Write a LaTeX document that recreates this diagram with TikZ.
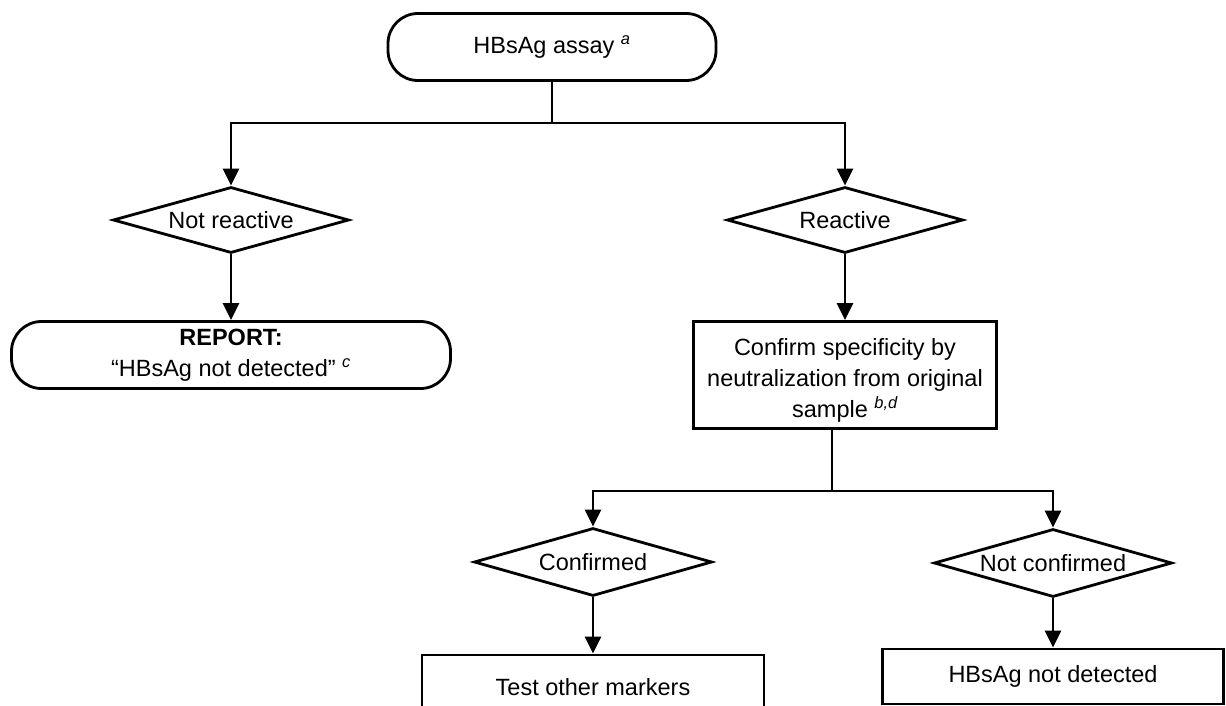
\documentclass[tikz,border=0pt]{standalone}
\usepackage{fontspec}
\setmainfont{Liberation Sans}
\usetikzlibrary{arrows.meta,shapes.geometric}
\begin{document}
\begin{tikzpicture}[x=1pt,y=-1pt,
  txt/.style={font=\fontsize{23.5}{31}\selectfont, inner sep=0pt, line width=2.8pt, draw=black, align=center},
  term/.style={txt, rectangle, rounded corners=30pt, minimum height=67pt},
  dec/.style={txt, diamond, aspect=3.6, minimum width=236pt, minimum height=66pt},
  stepbox/.style={txt, rectangle},
  line/.style={line width=2.8pt},
  conn/.style={line width=2.8pt, -{Triangle[width=16pt,length=17pt]}}
]
\useasboundingbox (0,0) rectangle (1226,706);
\fill[white] (0,0) rectangle (1226,706);
\clip (0,0) rectangle (1226,706);

\node[term, minimum width=328pt] (top) at (552,47) {HBsAg assay \textsuperscript{\itshape a}};
\node[dec] (nr) at (231,220) {Not reactive};
\node[dec] (re) at (845,220) {Reactive};
\node[term, minimum width=439pt] (rep) at (231,355) {\textbf{REPORT:}\\“HBsAg not detected” \textsuperscript{\itshape c}};
\node[stepbox, minimum width=303pt, minimum height=107pt] (conf) at (845,375) {};
\node[txt, draw=none] (conftext) at (845,380)
  {Confirm specificity by\\neutralization from original\\sample \textsuperscript{\itshape b,d}};
\node[dec, minimum width=238pt, minimum height=68pt] (cf) at (593,562) {Confirmed};
\node[dec, minimum width=238pt, minimum height=68pt] (nc) at (1053,563) {Not confirmed};
\node[stepbox, minimum width=342pt, minimum height=64pt] (tom) at (593,687) {Test other markers};
\node[stepbox, minimum width=341pt, minimum height=55pt] (nd) at (1053,676.5) {HBsAg not detected};

\coordinate (j1) at (552,123);
\coordinate (j2) at (832,491);

\draw[line] (top.south) -- (j1);
\draw[conn] (j1) -| (nr.north);
\draw[conn] (j1) -| (re.north);
\draw[conn] (nr.south) -- (rep.north);
\draw[conn] (re.south) -- (conf.north);
\draw[line] (conf.south -| j2) -- (j2);
\draw[conn] (j2) -| (cf.north);
\draw[conn] (j2) -| (nc.north);
\draw[conn] (cf.south) -- (tom.north);
\draw[conn] (nc.south) -- (nd.north);
\end{tikzpicture}
\end{document}
